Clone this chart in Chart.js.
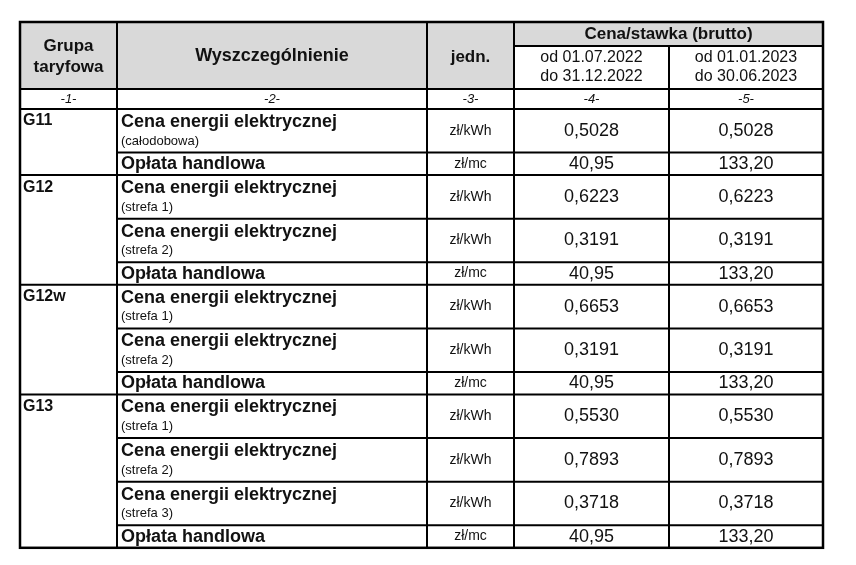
<!DOCTYPE html>
<html>
<head>
<meta charset="utf-8">
<script src="https://cdn.jsdelivr.net/npm/chart.js@4"></script>
<style>
  html, body { margin: 0; padding: 0; background: #fff; }
  #wrap { width: 856px; height: 565px; }
</style>
</head>
<body>
<div id="wrap"><canvas id="tariffTable" width="856" height="565"></canvas></div>
<script>
// Table content
const headerCols = ['Grupa\ntaryfowa', 'Wyszczególnienie', 'jedn.'];
const priceHeader = 'Cena/stawka (brutto)';
const periods = ['od 01.07.2022\ndo 31.12.2022', 'od 01.01.2023\ndo 30.06.2023'];
const colNumbers = ['-1-', '-2-', '-3-', '-4-', '-5-'];

const groups = ['G11', 'G12', 'G12w', 'G13'];
const rowGroup = [0, 0, 1, 1, 1, 2, 2, 2, 3, 3, 3, 3];
const rowNames = [
  'Cena energii elektrycznej', 'Opłata handlowa',
  'Cena energii elektrycznej', 'Cena energii elektrycznej', 'Opłata handlowa',
  'Cena energii elektrycznej', 'Cena energii elektrycznej', 'Opłata handlowa',
  'Cena energii elektrycznej', 'Cena energii elektrycznej', 'Cena energii elektrycznej', 'Opłata handlowa'
];
const rowSubs = [
  '(całodobowa)', '',
  '(strefa 1)', '(strefa 2)', '',
  '(strefa 1)', '(strefa 2)', '',
  '(strefa 1)', '(strefa 2)', '(strefa 3)', ''
];
const rowUnits = ['zł/kWh', 'zł/mc', 'zł/kWh', 'zł/kWh', 'zł/mc', 'zł/kWh', 'zł/kWh', 'zł/mc',
  'zł/kWh', 'zł/kWh', 'zł/kWh', 'zł/mc'];
const values2022 = ['0,5028', '40,95', '0,6223', '0,3191', '40,95', '0,6653', '0,3191', '40,95',
  '0,5530', '0,7893', '0,3718', '40,95'];
const values2023 = ['0,5028', '133,20', '0,6223', '0,3191', '133,20', '0,6653', '0,3191', '133,20',
  '0,5530', '0,7893', '0,3718', '133,20'];

// Layout (scale units)
const colEdges = [20, 117, 427, 514, 669, 823];
const headTop = 22, headSplit = 46, headBottom = 89, numBottom = 109;
const tallH = 43.6, shortH = 22.5;

const FONT = '"Liberation Sans", Arial, sans-serif';

const tablePlugin = {
  id: 'tablePlugin',
  afterDraw(chart) {
    const ctx = chart.ctx;
    const xs = chart.scales.x, ys = chart.scales.y;
    const X = v => xs.getPixelForValue(v);
    const Y = v => ys.getPixelForValue(v);

    // row edges
    const rowEdges = [numBottom];
    rowSubs.forEach((s, i) => rowEdges.push(rowEdges[i] + (s ? tallH : shortH)));
    const bottom = rowEdges[rowEdges.length - 1];

    ctx.save();
    // header background
    ctx.fillStyle = '#d9d9d9';
    ctx.fillRect(X(colEdges[0]), Y(headTop), X(colEdges[3]) - X(colEdges[0]), Y(headBottom) - Y(headTop));
    ctx.fillRect(X(colEdges[3]), Y(headTop), X(colEdges[5]) - X(colEdges[3]), Y(headSplit) - Y(headTop));

    ctx.strokeStyle = '#000';
    const line = (x1, y1, x2, y2) => {
      ctx.beginPath(); ctx.moveTo(X(x1), Y(y1)); ctx.lineTo(X(x2), Y(y2)); ctx.stroke();
    };
    // outer border
    ctx.lineWidth = 2.5;
    ctx.strokeRect(X(colEdges[0]), Y(headTop), X(colEdges[5]) - X(colEdges[0]), Y(bottom) - Y(headTop));
    ctx.lineWidth = 2;
    // vertical lines
    line(colEdges[1], headTop, colEdges[1], bottom);
    line(colEdges[2], headTop, colEdges[2], bottom);
    line(colEdges[3], headTop, colEdges[3], bottom);
    line(colEdges[4], headSplit, colEdges[4], bottom);
    // header horizontals
    line(colEdges[3], headSplit, colEdges[5], headSplit);
    line(colEdges[0], headBottom, colEdges[5], headBottom);
    line(colEdges[0], numBottom, colEdges[5], numBottom);
    // body horizontals
    for (let i = 1; i < rowEdges.length - 1; i++) {
      const newGroup = rowGroup[i] !== rowGroup[i - 1];
      line(newGroup ? colEdges[0] : colEdges[1], rowEdges[i], colEdges[5], rowEdges[i]);
    }

    ctx.fillStyle = '#111';
    ctx.textBaseline = 'middle';
    const text = (str, x, y, font, align) => {
      ctx.font = font; ctx.textAlign = align || 'center';
      ctx.fillText(str, X(x), Y(y));
    };
    const mid = i => (colEdges[i] + colEdges[i + 1]) / 2;

    // header texts
    const hb = 'bold 17px ' + FONT;
    const [g1, g2] = headerCols[0].split('\n');
    text(g1, mid(0), 46, hb); text(g2, mid(0), 67, hb);
    text(headerCols[1], mid(1), 56, 'bold 18px ' + FONT);
    text(headerCols[2], mid(2), 57, hb);
    text(priceHeader, (colEdges[3] + colEdges[5]) / 2, 34, hb);
    periods.forEach((p, k) => {
      const [a, b] = p.split('\n');
      text(a, mid(3 + k), 58, '16px ' + FONT);
      text(b, mid(3 + k), 77, '16px ' + FONT);
    });
    colNumbers.forEach((n, i) => text(n, mid(i), 99, 'italic 13px ' + FONT));

    // body texts
    rowNames.forEach((name, i) => {
      const top = rowEdges[i], bot = rowEdges[i + 1], cy = (top + bot) / 2;
      if (i === 0 || rowGroup[i] !== rowGroup[i - 1]) {
        text(groups[rowGroup[i]], colEdges[0] + 3, top + 12, 'bold 16px ' + FONT, 'left');
      }
      if (rowSubs[i]) {
        text(name, colEdges[1] + 4, top + 13, 'bold 18px ' + FONT, 'left');
        text(rowSubs[i], colEdges[1] + 4, top + 32, '13px ' + FONT, 'left');
      } else {
        text(name, colEdges[1] + 4, cy, 'bold 18px ' + FONT, 'left');
      }
      text(rowUnits[i], mid(2), cy, '14px ' + FONT);
      text(values2022[i], mid(3), cy, '18px ' + FONT);
      text(values2023[i], mid(4), cy, '18px ' + FONT);
    });
    ctx.restore();
  }
};

new Chart(document.getElementById('tariffTable'), {
  type: 'scatter',
  data: { datasets: [{ data: [] }] },
  options: {
    responsive: false,
    animation: false,
    layout: { padding: 0 },
    plugins: { legend: { display: false }, tooltip: { enabled: false } },
    scales: {
      x: { type: 'linear', min: 0, max: 856, display: false },
      y: { type: 'linear', min: 0, max: 565, reverse: true, display: false }
    }
  },
  plugins: [tablePlugin]
});
</script>
</body>
</html>
